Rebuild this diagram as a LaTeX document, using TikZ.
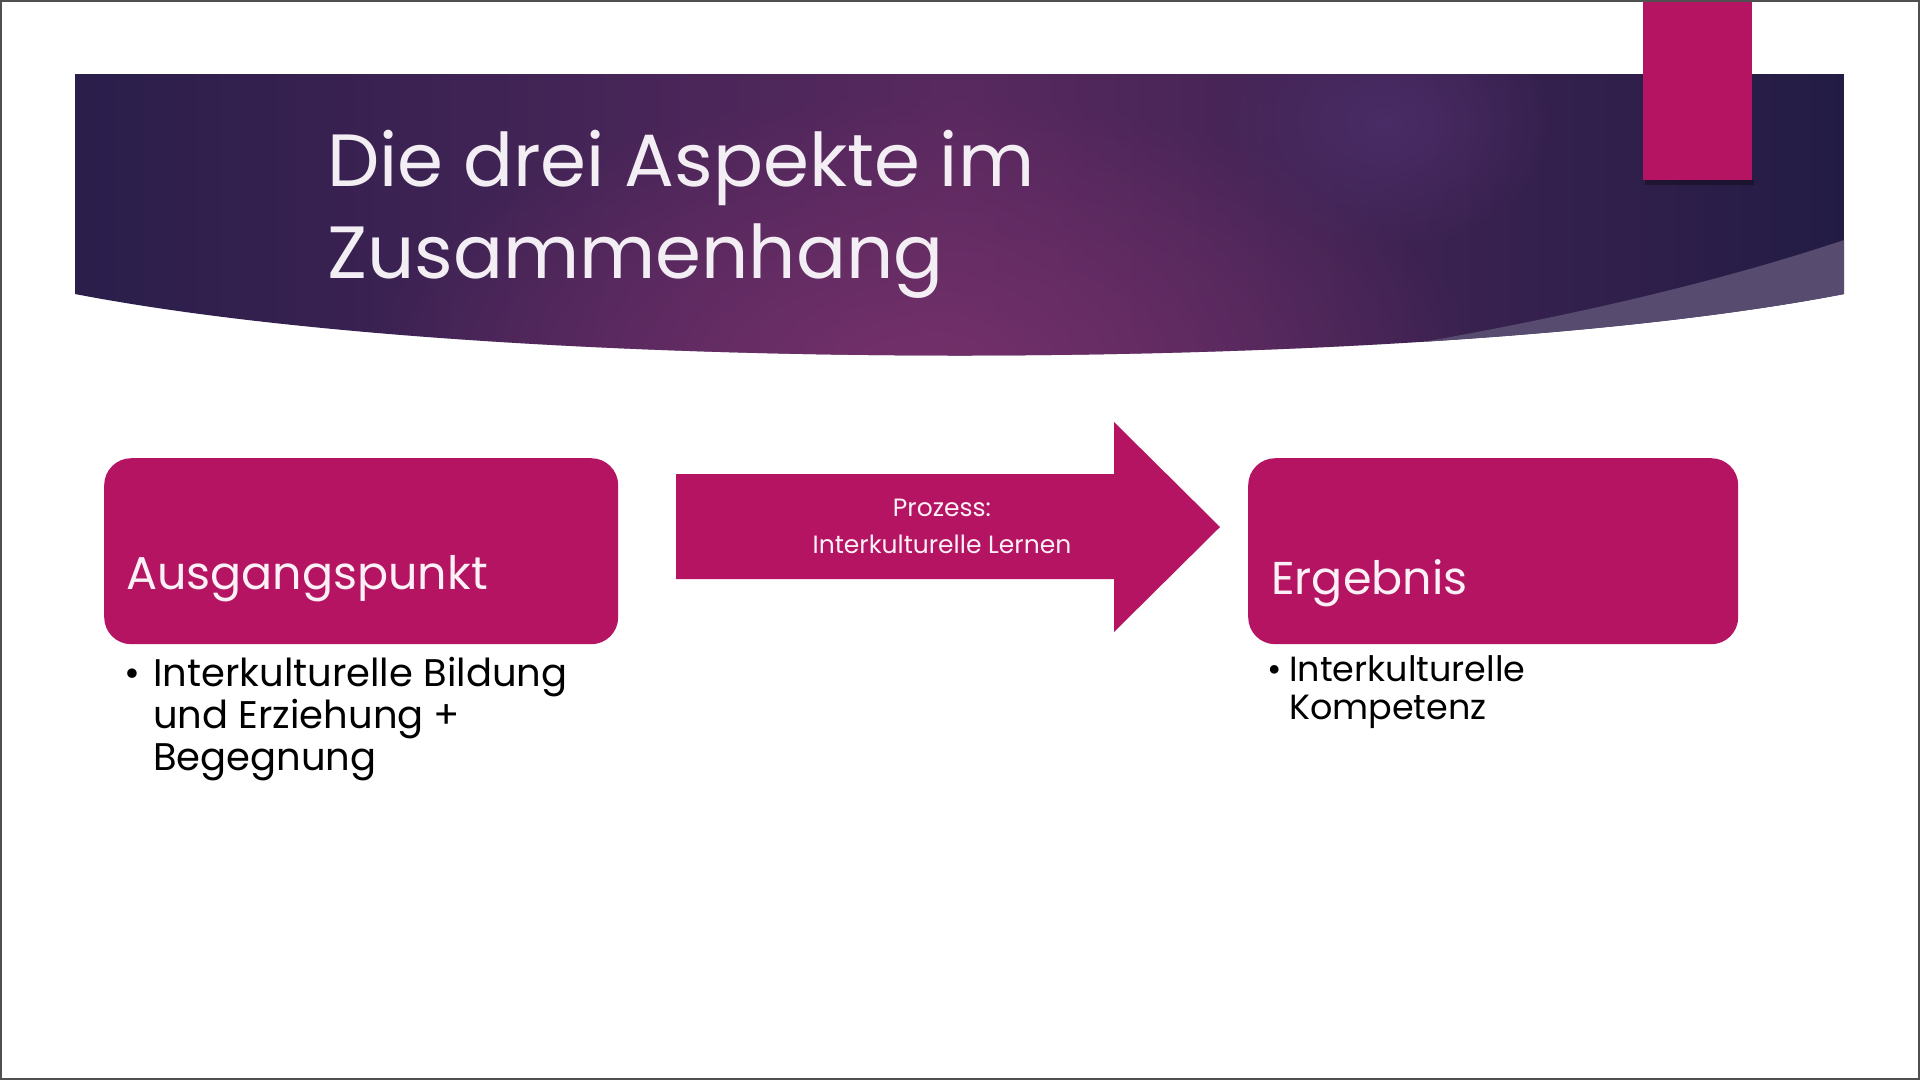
\documentclass[tikz,border=0pt]{standalone}
\usepackage{fontspec}
\setmainfont{Poppins}
\usetikzlibrary{fadings}
\definecolor{pinkm}{HTML}{B41462}
\definecolor{bandL}{HTML}{2A1E4B}
\definecolor{bandM}{HTML}{58295F}
\definecolor{bandR}{HTML}{221C44}
\definecolor{glowA}{HTML}{74306A}
\definecolor{glowB}{HTML}{4A2C66}
\definecolor{lightband}{HTML}{574C70}
\definecolor{txtlight}{HTML}{FBF0F6}
\definecolor{titletxt}{HTML}{F3EEF4}
\definecolor{framec}{HTML}{505050}
\tikzfading[name=softglow, inner color=transparent!0, outer color=transparent!100]
\tikzset{
  box/.style={fill=pinkm, draw=none, rounded corners=27pt, anchor=north west, minimum width=514pt, minimum height=186pt, inner sep=0pt},
  boxtitle/.style={anchor=base west, text=txtlight, font=\fontsize{46}{50}\selectfont, inner sep=0pt},
  titletext/.style={anchor=base west, text=titletxt, font=\fontsize{74}{92}\selectfont, inner sep=0pt},
  bulletL/.style={anchor=base west, text=black, font=\fontsize{38.5}{43}\selectfont, inner sep=0pt},
  bulletR/.style={anchor=base west, text=black, font=\fontsize{35}{40}\selectfont, inner sep=0pt},
  arrowtext/.style={anchor=base, text=txtlight, font=\fontsize{25}{30}\selectfont, inner sep=0pt}
}
\begin{document}
\begin{tikzpicture}[x=1pt,y=-1pt]
\useasboundingbox (0,0) rectangle (1920,1080);
\fill[white] (0,0) rectangle (1920,1080);
% header band
\begin{scope}
\clip (75,74) -- (1844,74) -- (1844,294) .. controls (1420,376) and (500,376) .. (75,294) -- cycle;
\shade[left color=bandL, right color=bandR, middle color=bandM] (75,74) rectangle (1844,380);
\fill[glowA, path fading=softglow] (920,370) ellipse [x radius=560, y radius=280];
\fill[glowB, path fading=softglow] (1384,122) ellipse [x radius=170, y radius=130];
\fill[lightband] (1844,240) .. controls (1680,295) and (1480,335) .. (1300,362) -- (1300,420) -- (1900,420) -- (1900,240) -- cycle;
\end{scope}
% pink bar
\fill[black, opacity=0.3] (1645,180) rectangle (1754,185);
\fill[pinkm] (1643,0) rectangle (1752,180);
% title
\node[titletext] (t1) at (327,186) {Die drei Aspekte im};
\node[titletext] (t2) at (327,278) {Zusammenhang};
% boxes
\node[box] (start) at (104,458) {};
\node[boxtitle] (starttxt) at (126,589) {Ausgangspunkt};
\node[box, minimum width=490pt] (result) at (1248,458) {};
\node[boxtitle] (resulttxt) at (1271,594) {Ergebnis};
% arrow
\coordinate (a0) at (676,474);
\coordinate (a1) at (1114,474);
\coordinate (a2) at (1114,422);
\coordinate (tip) at (1220,527);
\coordinate (a4) at (1114,632);
\coordinate (a5) at (1114,579);
\coordinate (a6) at (676,579);
\fill[pinkm] (a0) -- (a1) -- (a2) -- (tip) -- (a4) -- (a5) -- (a6) -- cycle;
\node[arrowtext] (p1) at (942,516) {Prozess:};
\node[arrowtext] (p2) at (942,553) {Interkulturelle Lernen};
% bullets left
\node[bulletL] (bl0) at (124,686) {•};
\node[bulletL] (bl1) at (153,686) {Interkulturelle Bildung};
\node[bulletL] (bl2) at (153,728) {und Erziehung +};
\node[bulletL] (bl3) at (153,770) {Begegnung};
% bullets right
\node[bulletR] (br0) at (1267,681) {•};
\node[bulletR] (br1) at (1289,681) {Interkulturelle};
\node[bulletR] (br2) at (1289,719) {Kompetenz};
% frame
\draw[framec, line width=2pt] (1,1) rectangle (1919,1079);
\end{tikzpicture}
\end{document}
